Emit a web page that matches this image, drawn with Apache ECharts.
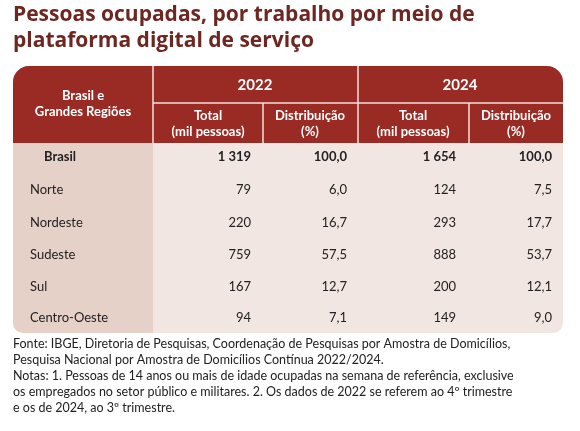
<!DOCTYPE html>
<html><head><meta charset="utf-8">
<script src="https://cdn.jsdelivr.net/npm/echarts@6/dist/echarts.min.js"></script>
<style>html,body{margin:0;background:#fff}#main{width:580px;height:431px}</style>
</head><body><div id="main"></div>
<script>
var myChart = echarts.init(document.getElementById('main'));

var regioes = ['Brasil', 'Norte', 'Nordeste', 'Sudeste', 'Sul', 'Centro-Oeste'];
var total2022 = ['1 319', '79', '220', '759', '167', '94'];
var dist2022 = ['100,0', '6,0', '16,7', '57,5', '12,7', '7,1'];
var total2024 = ['1 654', '124', '293', '888', '200', '149'];
var dist2024 = ['100,0', '7,5', '17,7', '53,7', '12,1', '9,0'];
var anos = ['2022', '2024'];

var font = 'Lato, "Open Sans", sans-serif';
var red = '#9a2b24';
var g = [];

g.push({ type: 'text', left: 13, top: 2, style: { text: 'Pessoas ocupadas, por trabalho por meio de\nplataforma digital de serviço', fill: '#6e2620', font: 'bold 21px "Open Sans", sans-serif', lineHeight: 26 } });

// table body
g.push({ type: 'rect', shape: { x: 13, y: 66, width: 550, height: 267, r: [16, 16, 10, 10] }, style: { fill: '#f2e6e2' } });
g.push({ type: 'rect', shape: { x: 13, y: 66, width: 140, height: 267, r: [16, 0, 0, 10] }, style: { fill: '#e6d1c8' } });
// header
g.push({ type: 'rect', shape: { x: 13, y: 66, width: 550, height: 77, r: [16, 16, 0, 0] }, style: { fill: red } });
var lineStyle = { stroke: '#f3e1dc', lineWidth: 1.5 };
g.push({ type: 'line', shape: { x1: 153, y1: 66, x2: 153, y2: 143 }, style: lineStyle });
g.push({ type: 'line', shape: { x1: 358, y1: 66, x2: 358, y2: 143 }, style: lineStyle });
g.push({ type: 'line', shape: { x1: 153, y1: 103, x2: 563, y2: 103 }, style: lineStyle });
g.push({ type: 'line', shape: { x1: 263, y1: 103, x2: 263, y2: 143 }, style: lineStyle });
g.push({ type: 'line', shape: { x1: 469, y1: 103, x2: 469, y2: 143 }, style: lineStyle });

var hdr = { fill: '#fff', font: 'bold 13px ' + font, align: 'center', verticalAlign: 'middle', lineHeight: 16 };
g.push({ type: 'text', x: 83, y: 104, style: Object.assign({ text: 'Brasil e\nGrandes Regiões' }, hdr) });
anos.forEach(function (a, i) {
    var cx = i ? 460 : 255;
    g.push({ type: 'text', x: cx, y: 85, style: Object.assign({}, hdr, { text: a, font: 'bold 15px ' + font }) });
});
var subX = [208, 310, 413, 516];
subX.forEach(function (x, i) {
    g.push({ type: 'text', x: x, y: 124, style: Object.assign({ text: i % 2 ? 'Distribuição\n(%)' : 'Total\n(mil pessoas)' }, hdr) });
});

// rows
var rowY = [157, 190, 223, 255, 287, 318];
var colX = [251, 347, 456, 552];
var cols = [total2022, dist2022, total2024, dist2024];
regioes.forEach(function (r, i) {
    var bold = i === 0 ? 'bold ' : '';
    g.push({ type: 'text', x: i === 0 ? 44 : 30, y: rowY[i], style: { text: r, fill: '#222', font: bold + '13px ' + font, verticalAlign: 'middle' } });
    cols.forEach(function (c, j) {
        g.push({ type: 'text', x: colX[j], y: rowY[i], style: { text: c[i], fill: '#222', font: bold + '13px ' + font, align: 'right', verticalAlign: 'middle' } });
    });
});

g.push({ type: 'text', left: 13, top: 336, style: { text: 'Fonte: IBGE, Diretoria de Pesquisas, Coordenação de Pesquisas por Amostra de Domicílios,\nPesquisa Nacional por Amostra de Domicílios Contínua 2022/2024.\nNotas: 1. Pessoas de 14 anos ou mais de idade ocupadas na semana de referência, exclusive\nos empregados no setor público e militares. 2. Os dados de 2022 se referem ao 4º trimestre\ne os de 2024, ao 3º trimestre.', fill: '#222', font: '12.5px ' + font, lineHeight: 16 } });

option = { backgroundColor: '#ffffff', graphic: g };
myChart.setOption(option);
</script></body></html>
